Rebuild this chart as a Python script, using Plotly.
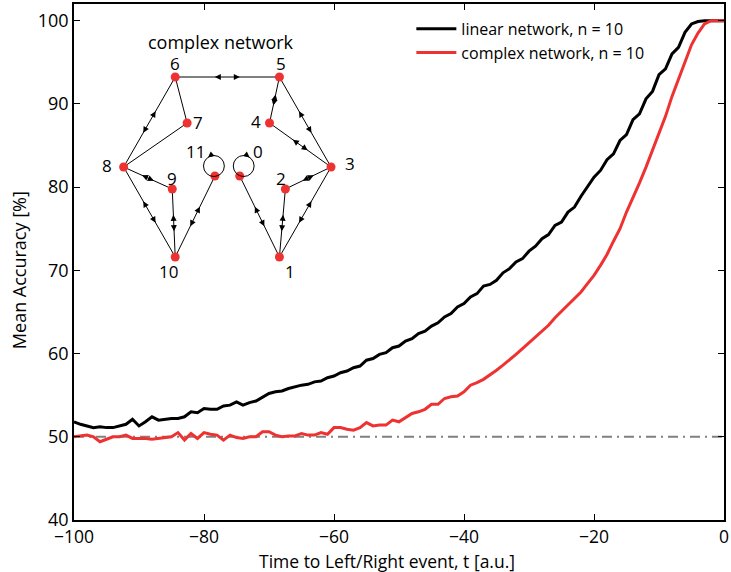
import plotly.graph_objects as go

# ---------------- data ----------------
t = list(range(-100, 1))

linear_acc = [
    51.8, 51.5, 51.3, 51.1, 51.2, 51.1, 51.1, 51.3, 51.5, 52.1,   # -100..-91
    51.3, 51.8, 52.4, 52.0, 52.1, 52.2, 52.2, 52.4, 53.0, 52.9,   # -90..-81
    53.4, 53.3, 53.3, 53.7, 53.8, 54.2, 53.8, 54.1, 54.3, 54.8,   # -80..-71
    55.2, 55.4, 55.5, 55.8, 56.0, 56.2, 56.3, 56.6, 56.7, 57.1,   # -70..-61
    57.3, 57.7, 57.9, 58.3, 58.5, 59.2, 59.4, 59.9, 60.1, 60.7,   # -60..-51
    60.9, 61.5, 61.8, 62.4, 62.7, 63.3, 63.7, 64.4, 64.8, 65.6,   # -50..-41
    66.0, 66.8, 67.2, 68.1, 68.3, 68.8, 69.7, 70.2, 71.0, 71.4,   # -40..-31
    72.3, 72.9, 73.8, 74.3, 75.4, 75.8, 77.0, 77.6, 78.9, 80.0,   # -30..-21
    81.2, 82.0, 83.3, 84.0, 85.6, 86.3, 88.1, 88.8, 90.6, 91.5,   # -20..-11
    93.5, 94.2, 96.0, 96.8, 98.6, 99.6, 99.9, 100.0, 100.0, 100.0,  # -10..-1
    100.0,                                                         # 0
]

complex_acc = [
    50.0, 50.1, 50.2, 50.0, 49.4, 49.7, 50.0, 50.0, 50.2, 49.8,   # -100..-91
    49.8, 49.8, 49.7, 49.8, 49.9, 50.0, 50.5, 49.6, 50.4, 49.8,   # -90..-81
    50.5, 50.3, 50.2, 49.6, 50.2, 49.9, 49.8, 50.0, 50.0, 50.6,   # -80..-71
    50.6, 50.2, 50.0, 50.1, 50.1, 50.4, 50.2, 50.2, 50.5, 50.3,   # -70..-61
    51.1, 51.1, 50.9, 50.8, 51.1, 51.7, 51.3, 51.4, 51.4, 52.0,   # -60..-51
    51.8, 52.3, 52.8, 53.0, 53.3, 53.9, 53.9, 54.6, 54.8, 54.9,   # -50..-41
    55.4, 56.2, 56.5, 56.9, 57.4, 58.0, 58.6, 59.2, 59.9, 60.6,   # -40..-31
    61.3, 62.0, 62.7, 63.4, 64.3, 65.1, 65.9, 66.7, 67.4, 68.4,   # -30..-21
    69.4, 70.6, 71.9, 73.5, 75.0, 77.0, 78.7, 80.5, 82.4, 84.4,   # -20..-11
    86.3, 88.5, 90.9, 93.0, 95.1, 97.1, 98.5, 99.6, 100.0, 100.0,  # -10..-1
    100.0,                                                         # 0
]

chance_level = [50, 50]
chance_t = [-100, 0]

series_names = ["linear network, n = 10", "complex network, n = 10"]
x_ticks = [-100, -80, -60, -40, -20, 0]
y_ticks = [40, 50, 60, 70, 80, 90, 100]

# network inset diagram (diagram units)
node_ids = [0, 1, 2, 3, 4, 5, 6, 7, 8, 9, 10, 11]
node_x = [241, 281, 287, 333, 271, 281, 176, 188, 124, 173, 176, 216]
node_y = [176, 257, 189, 167, 123, 77, 77, 123, 167, 189, 257, 176]
label_x = [259, 292, 283, 352, 257, 283, 176, 199, 107, 173, 169, 196]
label_y = [151, 271, 178, 163, 121, 63, 63, 122, 165, 178, 271, 151]
edges_bidir = [(6, 5), (6, 8), (8, 9), (8, 10), (9, 10), (10, 11),
               (5, 4), (5, 3), (4, 3), (3, 2), (3, 1), (2, 1), (1, 0)]
edges_plain = [(6, 7), (7, 8)]
self_loops = [11, 0]

# ---------------- figure ----------------
RED = "#EE3232"
FONT = "Open Sans"

fig = go.Figure()

fig.add_trace(go.Scatter(x=chance_t, y=chance_level, mode="lines",
                         line=dict(color="#808080", width=2, dash="10px,5px,2px,5px"),
                         showlegend=False, hoverinfo="skip"))
fig.add_trace(go.Scatter(x=t, y=linear_acc, mode="lines", name=series_names[0],
                         line=dict(color="black", width=3)))
fig.add_trace(go.Scatter(x=t, y=complex_acc, mode="lines", name=series_names[1],
                         line=dict(color=RED, width=3)))

# network edges
ex, ey = [], []
for a, b in edges_bidir + edges_plain:
    ex += [node_x[a], node_x[b], None]
    ey += [node_y[a], node_y[b], None]
fig.add_trace(go.Scatter(x=ex, y=ey, mode="lines", xaxis="x2", yaxis="y2",
                         line=dict(color="black", width=1), showlegend=False,
                         hoverinfo="skip"))

annotations = []
shapes = []

def head(px, py, dx, dy):
    # arrowhead at (px,py) pointing along (dx,dy)
    n = (dx * dx + dy * dy) ** 0.5
    ux, uy = dx / n, dy / n
    annotations.append(dict(x=px, y=py, ax=px - ux * 5, ay=py - uy * 5,
                            xref="x2", yref="y2", axref="x2", ayref="y2",
                            showarrow=True, arrowhead=2, arrowsize=1.2,
                            arrowwidth=1, arrowcolor="black", text=""))

for a, b in edges_bidir:
    xa, ya, xb, yb = node_x[a], node_y[a], node_x[b], node_y[b]
    dx, dy = xb - xa, yb - ya
    head(xa + 0.38 * dx, ya + 0.38 * dy, -dx, -dy)
    head(xa + 0.62 * dx, ya + 0.62 * dy, dx, dy)

for i, n in enumerate(self_loops):
    cx = node_x[n] - 1 if n == 11 else node_x[n] + 4
    cy = node_y[n] - 10
    shapes.append(dict(type="circle", xref="x2", yref="y2",
                       x0=cx - 10.5, x1=cx + 10.5, y0=cy - 10.5, y1=cy + 10.5,
                       line=dict(color="black", width=1)))
    if n == 11:
        head(cx - 6, cy - 8.5, -1, 0.8)
    else:
        head(cx + 6, cy - 8.5, 1, 0.8)

fig.add_trace(go.Scatter(x=node_x, y=node_y, mode="markers", xaxis="x2", yaxis="y2",
                         marker=dict(color=RED, size=9), showlegend=False,
                         hoverinfo="skip"))

for i, nid in enumerate(node_ids):
    annotations.append(dict(x=label_x[i], y=label_y[i], xref="x2", yref="y2",
                            text=str(nid), showarrow=False,
                            font=dict(family=FONT, size=17, color="black")))
annotations.append(dict(x=222, y=42, xref="x2", yref="y2", text="complex network",
                        showarrow=False, font=dict(family=FONT, size=18, color="black")))

annotations.append(dict(x=-0.0855, y=0.485, xref="paper", yref="paper",
                        xanchor="center", yanchor="middle",
                        text="Mean Accuracy [%]", textangle=-90, showarrow=False,
                        font=dict(family=FONT, size=18, color="black")))
annotations.append(dict(x=0.482, y=-0.079, xref="paper", yref="paper",
                        xanchor="center", yanchor="middle",
                        text="Time to Left/Right event, t [a.u.]", showarrow=False,
                        font=dict(family=FONT, size=17.5, color="black")))

fig.update_layout(
    width=731, height=572,
    margin=dict(l=74, r=2, t=4, b=52),
    paper_bgcolor="white", plot_bgcolor="white",
    font=dict(family=FONT, size=18, color="black"),
    showlegend=True,
    legend=dict(x=0.519, y=0.985, xanchor="left", yanchor="top",
                bgcolor="rgba(0,0,0,0)", font=dict(family=FONT, size=16),
                tracegroupgap=0, itemwidth=40),
    xaxis=dict(range=[-100, 0], tickvals=x_ticks, ticks="inside", ticklen=6,
               tickcolor="black", showline=True, linecolor="black", linewidth=1.5,
               mirror="ticks", showgrid=False, zeroline=False,
               tickfont=dict(size=17.5), ticklabeloverflow="allow"),
    yaxis=dict(range=[40, 102], tickvals=y_ticks, ticks="inside", ticklen=6,
               tickcolor="black", showline=True, linecolor="black", linewidth=1.5,
               mirror="ticks", showgrid=False, zeroline=False,
               tickfont=dict(size=18)),
    xaxis2=dict(overlaying="x", range=[74, 729], visible=False, anchor="y2"),
    yaxis2=dict(overlaying="y", range=[520, 4], visible=False, anchor="x2"),
    annotations=annotations,
    shapes=shapes,
)

fig.write_html("out.html", config={"displayModeBar": False},
               post_script="document.body.style.margin='0';document.body.style.overflow='hidden';")
